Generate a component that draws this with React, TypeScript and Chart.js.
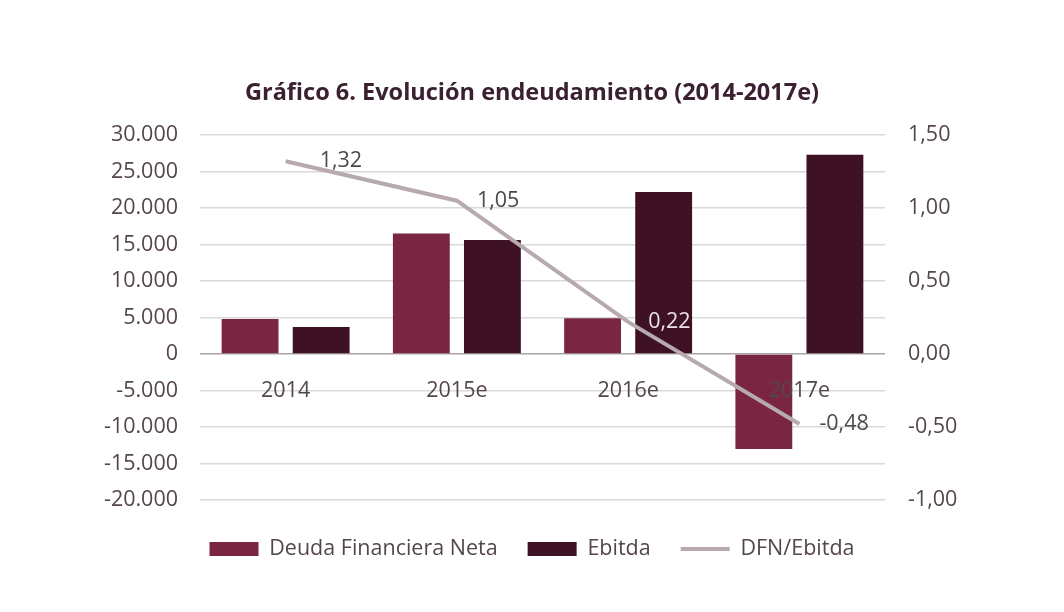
import React, { useEffect, useRef } from "react";
import { Chart, registerables } from "chart.js";

Chart.register(...registerables);

const categories = ["2014", "2015e", "2016e", "2017e"];
const deudaFinancieraNeta = [4800, 16500, 4900, -13000];
const ebitda = [3700, 15600, 22200, 27300];
const dfnEbitda = [1.32, 1.05, 0.22, -0.48];

const leftTicks = { min: -20000, max: 30000, step: 5000 };
const rightTicks = { min: -1, max: 1.5, step: 0.5 };

const FONT = "'Open Sans', 'Noto Sans', sans-serif";
const FS = 21.5;
const TEXT = "#54464d";
const DFN_COLOR = "#7a2542";
const EBITDA_COLOR = "#3e1125";
const LINE_COLOR = "#b7a9b0";
const labelColors = ["#4a4a4a", "#4a4a4a", "#e8e2e6", "#4a4a4a"];
const labelOffsets = [34, 20, 20, 20];

const fmtThousands = (v: number) => {
  const s = Math.abs(Math.round(v)).toString().replace(/\B(?=(\d{3})+(?!\d))/g, ".");
  return (v < 0 ? "-" : "") + s;
};
const fmtDec = (v: number) => v.toFixed(2).replace(".", ",");

const lineLabels = {
  id: "lineLabels",
  afterDatasetsDraw(chart: any) {
    const meta = chart.getDatasetMeta(2);
    const ctx = chart.ctx;
    ctx.save();
    ctx.font = `${FS}px ${FONT}`;
    ctx.textAlign = "left";
    ctx.textBaseline = "middle";
    meta.data.forEach((pt: any, i: number) => {
      ctx.fillStyle = labelColors[i];
      ctx.fillText(fmtDec(dfnEbitda[i]), pt.x + labelOffsets[i], pt.y);
    });
    ctx.restore();
  },
};

export default function App() {
  const ref = useRef<HTMLCanvasElement>(null);
  useEffect(() => {
    if (!ref.current) return;
    const chart = new Chart(ref.current, {
      type: "bar",
      data: {
        labels: categories,
        datasets: [
          {
            type: "bar",
            label: "Deuda Financiera Neta",
            data: deudaFinancieraNeta,
            backgroundColor: DFN_COLOR,
            borderWidth: 0,
            yAxisID: "y",
            order: 1,
            categoryPercentage: 0.83,
            barPercentage: 0.8,
          },
          {
            type: "bar",
            label: "Ebitda",
            data: ebitda,
            backgroundColor: EBITDA_COLOR,
            borderWidth: 0,
            yAxisID: "y",
            order: 1,
            categoryPercentage: 0.83,
            barPercentage: 0.8,
          },
          {
            type: "line",
            label: "DFN/Ebitda",
            data: dfnEbitda,
            borderColor: LINE_COLOR,
            backgroundColor: LINE_COLOR,
            borderWidth: 4,
            pointRadius: 0,
            tension: 0,
            yAxisID: "y1",
            order: 0,
          } as any,
        ],
      },
      options: {
        responsive: false,
        animation: false,
        layout: { padding: { left: 0, right: 0, top: 0, bottom: 42.25 } },
        scales: {
          x: {
            position: { y: 0 } as any,
            grid: { display: false, drawTicks: false },
            border: { display: false },
            ticks: { z: 1, font: { family: FONT, size: FS }, color: TEXT, padding: 24 } as any,
          },
          y: {
            position: "left",
            min: leftTicks.min,
            max: leftTicks.max,
            ticks: {
              stepSize: leftTicks.step,
              font: { family: FONT, size: FS },
              color: TEXT,
              padding: 22,
              callback: (v: any) => fmtThousands(Number(v)),
            },
            grid: {
              drawTicks: false,
              color: (c: any) => (c.tick && c.tick.value === 0 ? "#a9a4a7" : "#d9d9d9"),
              lineWidth: 1.5,
            },
            border: { display: false },
            afterFit: (s: any) => {
              s.width = 200;
            },
          },
          y1: {
            position: "right",
            min: rightTicks.min,
            max: rightTicks.max,
            ticks: {
              stepSize: rightTicks.step,
              font: { family: FONT, size: FS },
              color: TEXT,
              padding: 23,
              callback: (v: any) => fmtDec(Number(v)),
            },
            grid: { display: false, drawTicks: false },
            border: { display: false },
            afterFit: (s: any) => {
              s.width = 179;
            },
          },
        },
        plugins: {
          title: {
            display: true,
            text: "Gráfico 6. Evolución endeudamiento (2014-2017e)",
            font: { family: FONT, size: 23.5, weight: "bold" },
            color: "#3a2030",
            padding: { top: 79, bottom: 27.8 },
          },
          legend: {
            position: "bottom",
            title: {
              display: true,
              text: "",
              font: { family: FONT, size: 1, lineHeight: 1 },
              padding: { top: 7.25, bottom: 0 },
            },
            labels: {
              usePointStyle: true,
              pointStyleWidth: 49,
              boxHeight: 14,
              padding: 30,
              font: { family: FONT, size: FS },
              color: TEXT,
              sort: (a: any, b: any) => a.datasetIndex - b.datasetIndex,
              generateLabels: (ch: any) => {
                const items = Chart.defaults.plugins.legend.labels.generateLabels(ch);
                return items.map((it: any) => ({
                  ...it,
                  pointStyle: it.datasetIndex === 2 ? "line" : "rect",
                  lineWidth: it.datasetIndex === 2 ? 4 : 0,
                }));
              },
            },
          },
          tooltip: { enabled: false },
        },
      },
      plugins: [lineLabels],
    });
    return () => chart.destroy();
  }, []);
  return (
    <div style={{ position: "absolute", left: 0, top: 0, width: 1064, height: 612, background: "#fff" }}>
      <canvas ref={ref} width={1064} height={612} />
    </div>
  );
}
